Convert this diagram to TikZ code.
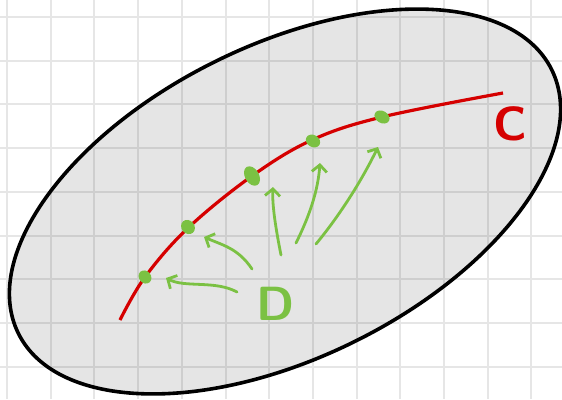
\documentclass[tikz,border=0pt]{standalone}
\usetikzlibrary{arrows.meta,shapes.geometric}
\definecolor{gridc}{HTML}{E6E6E6}
\definecolor{curvered}{HTML}{D50000}
\definecolor{penGreen}{HTML}{7BC143}
\tikzset{
  gridline/.style={draw=gridc, line width=2pt},
  region/.style={ellipse, draw=black, line width=3.6pt, fill=black, fill opacity=0.1, draw opacity=1, inner sep=0pt},
  curveC/.style={draw=curvered, line width=3.2pt},
  dot/.style={ellipse, fill=penGreen, inner sep=0pt},
  penarrow/.style={draw=penGreen, line width=2.8pt, line cap=round, line join=round,
    -{Straight Barb[length=7pt,width=15pt,line width=2.8pt]}},
  handlabel/.style={inner sep=0pt, font=\sffamily\bfseries\fontsize{48}{48}\selectfont}
}
\begin{document}
\begin{tikzpicture}[x=1pt,y=-1pt]
\useasboundingbox (0,0) rectangle (562,399);
% grid
\foreach \i in {0,...,13} \draw[gridline] ({7+43.7*\i},0) -- ({7+43.7*\i},399);
\foreach \j in {0,...,8} \draw[gridline] (0,{17+43.7*\j}) -- (562,{17+43.7*\j});
% region
\node[region, minimum width=595pt, minimum height=312.8pt, rotate=26.3] (E) at (285,201.5) {};
% curve C
\draw[curveC] plot[smooth, tension=0.6] coordinates {(120,320) (145,277) (188,228) (252,176) (312,140) (382,117) (503,93)};
% dots
\node[dot, minimum width=12pt, minimum height=14pt, rotate=40] (d1) at (145,277) {};
\node[dot, minimum width=13pt, minimum height=15pt, rotate=40] (d2) at (188,227) {};
\node[dot, minimum width=14pt, minimum height=21pt, rotate=30] (d3) at (252,176) {};
\node[dot, minimum width=12pt, minimum height=15pt, rotate=60] (d4) at (313,141) {};
\node[dot, minimum width=12pt, minimum height=16pt, rotate=60] (d5) at (382,117) {};
% labels
\node[handlabel, text=curvered] (C) at (510,124) {C};
\node[handlabel, text=penGreen] (D) at (276,304) {D};
% arrows
\coordinate (a1s) at (237,292); \coordinate (a1e) at (166,278);
\coordinate (a2s) at (252,269); \coordinate (a2e) at (204,237);
\coordinate (a3s) at (281,255); \coordinate (a3e) at (273,187);
\coordinate (a4s) at (296,243); \coordinate (a4e) at (320,163);
\coordinate (a5s) at (316,244); \coordinate (a5e) at (378,147);
\draw[penarrow] (a1s) .. controls (215,280) and (185,288) .. (a1e);
\draw[penarrow] (a2s) .. controls (238,248) and (222,245) .. (a2e);
\draw[penarrow] (a3s) .. controls (276,230) and (272,205) .. (a3e);
\draw[penarrow] (a4s) .. controls (310,215) and (318,190) .. (a4e);
\draw[penarrow] (a5s) .. controls (340,215) and (362,180) .. (a5e);
\end{tikzpicture}
\end{document}
